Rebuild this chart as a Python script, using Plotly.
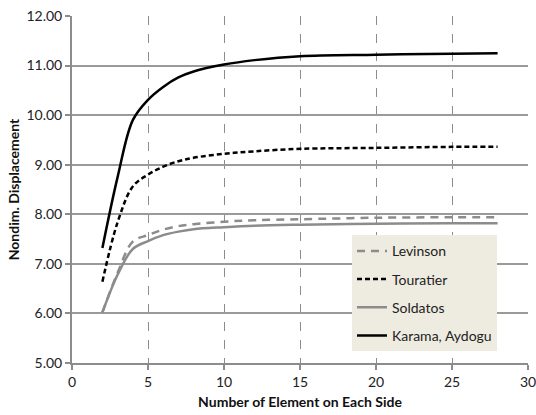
import plotly.graph_objects as go

x_vals = [2, 3, 4, 5, 6, 7, 8, 10, 12, 15, 20, 25, 28]
levinson = [6.02, 6.82, 7.45, 7.58, 7.69, 7.76, 7.80, 7.85, 7.88, 7.90, 7.93, 7.94, 7.94]
touratier = [6.64, 7.84, 8.56, 8.80, 8.96, 9.07, 9.14, 9.22, 9.27, 9.32, 9.34, 9.36, 9.36]
soldatos = [6.02, 6.78, 7.30, 7.46, 7.58, 7.65, 7.70, 7.74, 7.77, 7.79, 7.81, 7.82, 7.82]
karama = [7.32, 8.75, 9.90, 10.31, 10.57, 10.76, 10.88, 11.02, 11.11, 11.19, 11.22, 11.24, 11.25]

FONT = "Lato"
fig = go.Figure()
series = [
    ("Levinson", levinson, "#8c8c8c", "8px,6px"),
    ("Touratier", touratier, "black", "5px,3px"),
    ("Soldatos", soldatos, "#8c8c8c", "solid"),
    ("Karama, Aydogu", karama, "black", "solid"),
]
for i, (name, ys, col, dash) in enumerate(series):
    fig.add_trace(go.Scatter(
        x=x_vals, y=ys, name=name, mode="lines",
        line=dict(color=col, width=2.5, dash=dash, shape="spline", smoothing=1.0),
        legendgroup=f"g{i}",
    ))

fig.update_layout(
    width=536, height=415,
    margin=dict(l=72, r=8, t=16, b=52),
    paper_bgcolor="white", plot_bgcolor="white",
    font=dict(family=FONT, size=13, color="#222"),
    showlegend=True,
    legend=dict(
        x=0.614, y=0.368, xanchor="left", yanchor="top",
        bgcolor="#eeece1", borderwidth=0,
        font=dict(family=FONT, size=14, color="#222"),
        traceorder="grouped", tracegroupgap=7,
        itemwidth=30,
    ),
    xaxis=dict(
        range=[0, 30], dtick=5, tick0=0, automargin=False,
        ticklabeloverflow="allow",
        showgrid=True, gridcolor="#8c8c8c", gridwidth=1, griddash="dash",
        showline=True, linecolor="#8c8c8c", linewidth=2,
        ticks="outside", ticklen=5, tickcolor="#8c8c8c", tickwidth=1.5,
        zeroline=False,
        title=dict(text="<b>Number of Element on Each Side</b>",
                   font=dict(family=FONT, size=14, color="#111"), standoff=8),
        tickfont=dict(family=FONT, size=14, color="#222"),
    ),
    yaxis=dict(
        range=[5, 12], dtick=1, tick0=5, tickformat=".2f", automargin=False,
        ticklabeloverflow="allow",
        showgrid=True, gridcolor="#9a9a9a", gridwidth=1.5,
        showline=True, linecolor="#8c8c8c", linewidth=2,
        ticks="outside", ticklen=5, tickcolor="#8c8c8c", tickwidth=1.5,
        zeroline=False,
        title=dict(text="<b>Nondim. Displacement</b>",
                   font=dict(family=FONT, size=14, color="#111"), standoff=4),
        tickfont=dict(family=FONT, size=14, color="#222"),
    ),
)
fig.write_html("out.html",
               config={"displayModeBar": False},
               post_script="document.body.style.margin='0';document.body.style.overflow='hidden';")
